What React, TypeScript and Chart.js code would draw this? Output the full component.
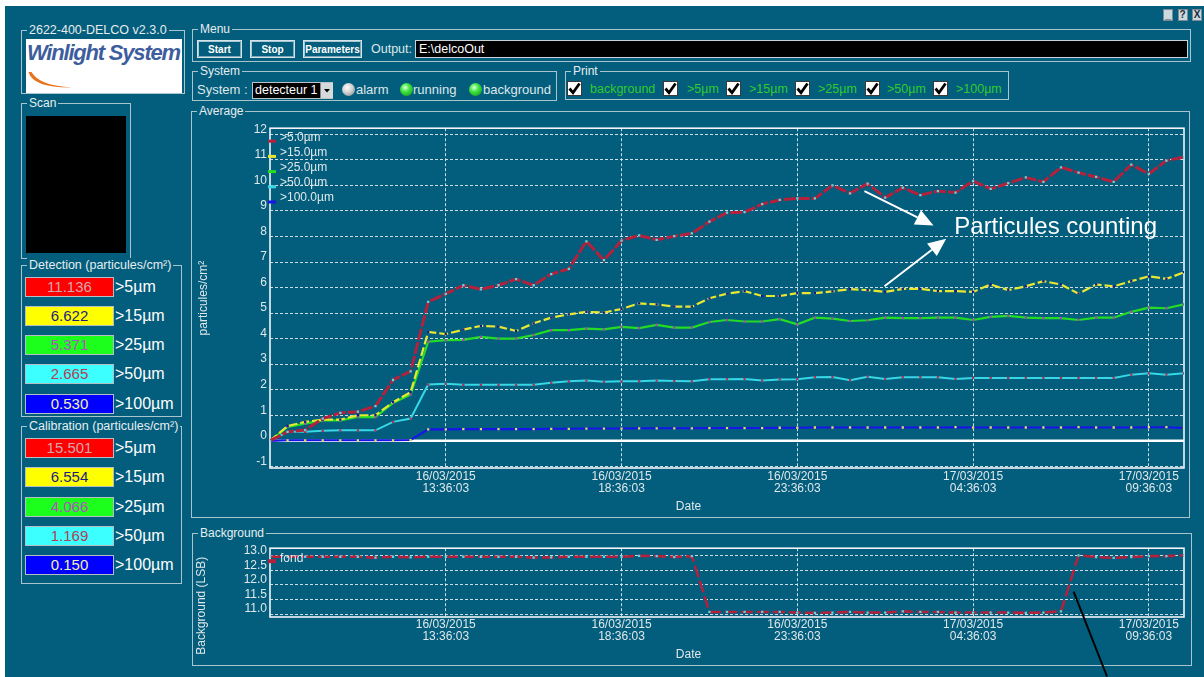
import React, { useEffect, useRef } from 'react';
import { Chart, registerables } from 'chart.js';

Chart.register(...registerables);

const FONT = '"Liberation Sans", Arial, Helvetica, sans-serif';
const TEAL = '#035d7c';
const INK = '#dfe8ea';
const FRAME = '#a9c4cc';
const GRID = 'rgba(225,236,240,0.9)';

// ---------- Average chart (one sample every 30 min, sample 0 = 16/03/2015 08:36:03)
const seriesLabels = ['>5.0µm', '>15.0µm', '>25.0µm', '>50.0µm', '>100.0µm'];
const over5 = [0, 0.35, 0.42, 0.87, 1.09, 1.14, 1.36, 2.38, 2.72, 5.44,
  5.75, 6.09, 5.93, 6.09, 6.33, 6.09, 6.53, 6.73, 7.81, 7.07,
  7.84, 8.04, 7.87, 8.01, 8.12, 8.58, 8.93, 8.95, 9.27, 9.43,
  9.49, 9.49, 10.0, 9.69, 10.07, 9.52, 9.91, 9.62, 9.78, 9.72,
  10.17, 9.86, 10.09, 10.31, 10.14, 10.71, 10.5, 10.33, 10.14, 10.81,
  10.45, 10.97, 11.11];
const over15 = [0, 0.58, 0.74, 0.83, 0.83, 1.0, 1.0, 1.51, 1.9, 4.26,
  4.18, 4.35, 4.5, 4.47, 4.3, 4.6, 4.82, 4.95, 5.05, 5.02,
  5.16, 5.38, 5.34, 5.25, 5.25, 5.58, 5.76, 5.86, 5.67, 5.67,
  5.78, 5.78, 5.85, 5.94, 5.9, 5.83, 5.95, 5.95, 5.86, 5.86,
  5.83, 6.12, 5.9, 6.05, 6.25, 6.12, 5.76, 6.12, 6.05, 6.25,
  6.44, 6.34, 6.6];
const over25 = [0, 0.54, 0.67, 0.8, 0.8, 0.93, 0.93, 1.48, 1.81, 3.88,
  3.94, 3.95, 4.07, 4.0, 4.0, 4.14, 4.33, 4.33, 4.39, 4.36,
  4.46, 4.41, 4.54, 4.43, 4.43, 4.65, 4.73, 4.67, 4.67, 4.76,
  4.56, 4.82, 4.78, 4.69, 4.72, 4.82, 4.8, 4.8, 4.82, 4.82,
  4.73, 4.85, 4.89, 4.82, 4.8, 4.8, 4.73, 4.82, 4.82, 5.05,
  5.21, 5.19, 5.34];
const over50 = [0, 0.35, 0.35, 0.39, 0.41, 0.41, 0.41, 0.74, 0.87, 2.2,
  2.23, 2.19, 2.19, 2.19, 2.19, 2.19, 2.27, 2.33, 2.36, 2.31,
  2.33, 2.33, 2.36, 2.34, 2.33, 2.41, 2.41, 2.42, 2.36, 2.4,
  2.41, 2.49, 2.5, 2.37, 2.51, 2.42, 2.49, 2.49, 2.49, 2.42,
  2.46, 2.46, 2.46, 2.46, 2.46, 2.46, 2.46, 2.46, 2.46, 2.59,
  2.64, 2.59, 2.64];
const over100 = [0, 0.02, 0.02, 0.02, 0.02, 0.02, 0.02, 0.02, 0.03, 0.45,
  0.45, 0.46, 0.46, 0.46, 0.46, 0.46, 0.47, 0.47, 0.48, 0.48,
  0.48, 0.49, 0.49, 0.49, 0.49, 0.5, 0.5, 0.5, 0.5, 0.51,
  0.51, 0.52, 0.52, 0.52, 0.52, 0.52, 0.52, 0.52, 0.52, 0.53,
  0.52, 0.52, 0.52, 0.52, 0.52, 0.52, 0.53, 0.52, 0.52, 0.52,
  0.53, 0.53, 0.5];

// ---------- Background chart
const fondLabel = 'fond';
const fond = [12.97, 12.97, 12.97, 12.97, 12.97, 12.97, 12.94, 12.97, 12.95, 12.97,
  12.97, 12.97, 12.97, 12.97, 12.97, 12.94, 12.95, 12.97, 12.97, 12.97,
  12.97, 13.0, 12.99, 12.96, 12.99, 11.07, 11.07, 11.07, 11.07, 11.07,
  11.05, 11.04, 11.05, 11.07, 11.05, 11.05, 11.09, 11.07, 11.07, 11.05,
  11.05, 11.05, 11.05, 11.04, 11.05, 11.09, 13.02, 12.96, 12.93, 12.96,
  12.99, 12.99, 13.02];

// ---------- axes
const xTickIndex = [10, 20, 30, 40, 50];
const xTickDates = ['16/03/2015', '16/03/2015', '16/03/2015', '17/03/2015', '17/03/2015'];
const xTickTimes = ['13:36:03', '18:36:03', '23:36:03', '04:36:03', '09:36:03'];
const yTicksAverage = [-1, 0, 1, 2, 3, 4, 5, 6, 7, 8, 9, 10, 11, 12];
const yTicksBackground = [11.0, 11.5, 12.0, 12.5, 13.0];

// ---------- side panel
const sizeLabels = ['>5µm', '>15µm', '>25µm', '>50µm', '>100µm'];
const detectionValues = [11.136, 6.622, 5.371, 2.665, 0.530];
const calibrationValues = [15.501, 6.554, 4.066, 1.169, 0.150];
const printLabels = ['background', '>5µm', '>15µm', '>25µm', '>50µm', '>100µm'];

// ---------- styles
const seriesColors = ['#b3213d', '#e8e832', '#24dc24', '#36d8e6', '#1616e8'];
const markerColors = ['#52dbe2', '#16169a', '#a445b8', '#b03052', '#e2e254'];
const seriesWidths = [3, 2.2, 2.2, 2, 2.2];
const seriesDashes = [[12, 2], [9, 3], [], [], []];
const boxColors = ['#ff0000', '#ffff00', '#1cff1c', '#3cffff', '#0000ff'];
const boxTextColors = ['#d3a6ae', '#1c1c84', '#b150c2', '#b53c56', '#f2f2b0'];

const annotationMain = {
  text: 'Particules counting',
  textAt: { x: 38.93, y: 8.09 },
  arrows: [
    { from: { x: 33.82, y: 9.78 }, to: { x: 37.75, y: 8.43 } },
    { from: { x: 34.96, y: 6.05 }, to: { x: 38.47, y: 7.91 } },
  ],
};
const annotationBg = { from: { x: 45.72, y: 11.77 }, to: { x: 47.62, y: 8.85 } };

function framePlugin(zeroLine: boolean) {
  return {
    id: 'frame',
    beforeDatasetsDraw(chart: any) {
      const { ctx, chartArea: a, scales } = chart;
      ctx.save();
      if (zeroLine) {
        const y = scales.y.getPixelForValue(0);
        ctx.strokeStyle = '#ffffff';
        ctx.lineWidth = 2.6;
        ctx.beginPath();
        ctx.moveTo(a.left, y);
        ctx.lineTo(a.right, y);
        ctx.stroke();
      }
      ctx.strokeStyle = '#f2f6f7';
      ctx.lineWidth = 1.6;
      ctx.strokeRect(a.left, a.top, a.right - a.left, a.bottom - a.top);
      ctx.restore();
    },
  };
}

function miniLegend(textDy: number, markerDy: number, step: number, markW: number) {
  return {
    id: 'miniLegend',
    afterDatasetsDraw(chart: any) {
      const { ctx, chartArea: a } = chart;
      ctx.save();
      chart.data.datasets.forEach((ds: any, i: number) => {
        const my = a.top + markerDy + i * step;
        ctx.strokeStyle = ds.borderColor;
        ctx.lineWidth = markW;
        ctx.setLineDash([]);
        ctx.beginPath();
        ctx.moveTo(a.left - 2, my);
        ctx.lineTo(a.left + 6, my);
        ctx.stroke();
        ctx.fillStyle = INK;
        ctx.font = `12px ${FONT}`;
        ctx.textBaseline = 'middle';
        ctx.textAlign = 'left';
        ctx.fillText(ds.label, a.left + 10, a.top + textDy + i * step);
      });
      ctx.restore();
    },
  };
}

function drawArrow(ctx: any, x1: number, y1: number, x2: number, y2: number, color: string, head: boolean) {
  const ang = Math.atan2(y2 - y1, x2 - x1);
  const hl = head ? 18 : 0;
  const hw = 8;
  const bx = x2 - hl * Math.cos(ang);
  const by = y2 - hl * Math.sin(ang);
  ctx.strokeStyle = color;
  ctx.fillStyle = color;
  ctx.lineWidth = 2;
  ctx.setLineDash([]);
  ctx.beginPath();
  ctx.moveTo(x1, y1);
  ctx.lineTo(bx, by);
  ctx.stroke();
  if (head) {
    ctx.beginPath();
    ctx.moveTo(x2, y2);
    ctx.lineTo(bx - hw * Math.sin(ang), by + hw * Math.cos(ang));
    ctx.lineTo(bx + hw * Math.sin(ang), by - hw * Math.cos(ang));
    ctx.closePath();
    ctx.fill();
  }
}

const mainNotePlugin = {
  id: 'mainNote',
  afterDraw(chart: any) {
    const { ctx, scales } = chart;
    const px = (p: any) => [scales.x.getPixelForValue(p.x), scales.y.getPixelForValue(p.y)];
    ctx.save();
    annotationMain.arrows.forEach((ar) => {
      const [x1, y1] = px(ar.from);
      const [x2, y2] = px(ar.to);
      drawArrow(ctx, x1, y1, x2, y2, '#ffffff', true);
    });
    const [tx, ty] = px(annotationMain.textAt);
    ctx.fillStyle = '#ffffff';
    ctx.font = `24px ${FONT}`;
    ctx.textAlign = 'left';
    ctx.textBaseline = 'alphabetic';
    ctx.fillText(annotationMain.text, tx, ty);
    ctx.restore();
  },
};

const bgNotePlugin = {
  id: 'bgNote',
  afterDraw(chart: any) {
    const { ctx, scales } = chart;
    ctx.save();
    drawArrow(ctx,
      scales.x.getPixelForValue(annotationBg.from.x), scales.y.getPixelForValue(annotationBg.from.y),
      scales.x.getPixelForValue(annotationBg.to.x), scales.y.getPixelForValue(annotationBg.to.y),
      '#000000', false);
    ctx.restore();
  },
};

function xScale(height: number, pad: number, count: number) {
  return {
    type: 'linear',
    min: 0,
    max: count - 1,
    afterBuildTicks: (s: any) => { s.ticks = xTickIndex.map((v) => ({ value: v })); },
    afterFit: (s: any) => { s.height = height; },
    ticks: {
      color: INK,
      font: { family: FONT, size: 12, lineHeight: 1 },
      padding: pad,
      maxRotation: 0,
      autoSkip: false,
      callback: (v: any) => {
        const k = xTickIndex.indexOf(Number(v));
        return k < 0 ? '' : [xTickDates[k], xTickTimes[k]];
      },
    },
    grid: { color: GRID, lineWidth: 1, drawTicks: false },
    border: { display: false, dash: [3, 2] },
  };
}

function Group({ x, y, w, h, label, size = 12 }: any) {
  return (
    <div style={{ position: 'absolute', left: x, top: y, width: w, height: h, border: `1px solid ${FRAME}`, boxSizing: 'border-box' }}>
      <span style={{ position: 'absolute', left: 5, top: -8, padding: '0 2px', background: TEAL, color: '#e6eef0', fontSize: size, lineHeight: '14px', whiteSpace: 'nowrap' }}>{label}</span>
    </div>
  );
}

function ValueRows({ top, values }: any) {
  return (
    <>
      {values.map((v: number, i: number) => (
        <React.Fragment key={i}>
          <div style={{ position: 'absolute', left: 25, top: top + i * 29.3, width: 89, height: 20, boxSizing: 'border-box', background: boxColors[i], border: '1px solid #b4bec4', color: boxTextColors[i], fontSize: 15, lineHeight: '18px', textAlign: 'center' }}>{v.toFixed(3)}</div>
          <div style={{ position: 'absolute', left: 115, top: top + i * 29.3, height: 20, color: '#ffffff', fontSize: 16, lineHeight: '20px', whiteSpace: 'nowrap' }}>{sizeLabels[i]}</div>
        </React.Fragment>
      ))}
    </>
  );
}

function Btn({ x, w, label }: any) {
  return (
    <div style={{ position: 'absolute', left: x, top: 40, width: w, height: 18, boxSizing: 'border-box', border: '1px solid #d4e4ea', boxShadow: 'inset -1px -1px 0 #7fa6b4, inset 1px 1px 0 #a8c8d2', color: '#ffffff', font: `bold 10px ${FONT}`, display: 'flex', alignItems: 'center', justifyContent: 'center' }}>{label}</div>
  );
}

function Led({ x, on }: any) {
  return (
    <div style={{ position: 'absolute', left: x, top: 83, width: 13, height: 13, borderRadius: '50%', background: on ? 'radial-gradient(circle at 40% 35%, #e4ffe4 0%, #44e844 35%, #0b8a0b 100%)' : 'radial-gradient(circle at 40% 35%, #ffffff 0%, #cfcfcf 45%, #7c7c7c 100%)' }} />
  );
}

function Check({ x }: any) {
  return (
    <svg style={{ position: 'absolute', left: x, top: 81 }} width={15} height={15}>
      <rect x={0.5} y={0.5} width={14} height={14} fill="#ffffff" stroke="#3a3a3a" />
      <path d="M2.5 7.5 L6 11.8 L12.5 2.5" stroke="#000" strokeWidth={2.8} fill="none" />
    </svg>
  );
}

export default function App() {
  const avgRef = useRef<HTMLCanvasElement>(null);
  const bgRef = useRef<HTMLCanvasElement>(null);

  useEffect(() => {
    const avgSeries = [over5, over15, over25, over50, over100];
    const c1 = new Chart(avgRef.current as HTMLCanvasElement, {
      type: 'line',
      data: {
        datasets: avgSeries.map((vals, k) => ({
          label: seriesLabels[k],
          data: vals.map((y, i) => ({ x: i, y })),
          borderColor: seriesColors[k],
          backgroundColor: markerColors[k],
          borderWidth: seriesWidths[k],
          borderDash: seriesDashes[k],
          pointStyle: 'rect',
          pointRadius: 1.6,
          pointBorderWidth: 0,
          pointBackgroundColor: markerColors[k],
          tension: 0,
          fill: false,
        })),
      },
      options: {
        responsive: false,
        animation: false,
        layout: { padding: { top: 8, right: 4, bottom: 0, left: 0 } },
        scales: {
          x: xScale(31.6, 3, over5.length) as any,
          y: {
            type: 'linear',
            min: -1.066,
            max: 12.24,
            afterBuildTicks: (s: any) => { s.ticks = yTicksAverage.map((v) => ({ value: v })); },
            afterFit: (s: any) => { s.width = 77; },
            ticks: { color: INK, font: { family: FONT, size: 12 }, padding: 3, labelOffset: -5, autoSkip: false, callback: (v: any) => String(v) },
            grid: { color: GRID, lineWidth: 1, drawTicks: false },
            border: { display: false, dash: [3, 2] },
            title: { display: true, text: 'particules/cm²', color: INK, font: { family: FONT, size: 12 }, padding: { top: 3.8, bottom: 0 } },
          },
        },
        plugins: {
          legend: { display: false },
          tooltip: { enabled: false },
          title: { display: true, position: 'bottom', text: 'Date', color: INK, font: { family: FONT, size: 12, weight: 'normal' }, padding: { top: 0, bottom: 2 } },
        },
      } as any,
      plugins: [framePlugin(true), miniLegend(9, 13, 15.2, 3), mainNotePlugin],
    });

    const c2 = new Chart(bgRef.current as HTMLCanvasElement, {
      type: 'line',
      data: {
        datasets: [{
          label: fondLabel,
          data: fond.map((y, i) => ({ x: i, y })),
          borderColor: '#b3213d',
          borderWidth: 2.6,
          borderDash: [12, 4],
          pointStyle: 'rect',
          pointRadius: 1.6,
          pointBorderWidth: 0,
          pointBackgroundColor: '#52dbe2',
          tension: 0,
          fill: false,
        }],
      },
      options: {
        responsive: false,
        animation: false,
        layout: { padding: { top: 10, right: 4, bottom: 13.5, left: 0 } },
        scales: {
          x: xScale(30.1, 1.3, fond.length) as any,
          y: {
            type: 'linear',
            min: 10.897,
            max: 13.264,
            afterBuildTicks: (s: any) => { s.ticks = yTicksBackground.map((v) => ({ value: v })); },
            afterFit: (s: any) => { s.width = 61.1; },
            ticks: { color: INK, font: { family: FONT, size: 12 }, padding: 3, labelOffset: -5, autoSkip: false, callback: (v: any) => Number(v).toFixed(1) },
            grid: { color: GRID, lineWidth: 1, drawTicks: false },
            border: { display: false, dash: [3, 2] },
          },
        },
        plugins: {
          legend: { display: false },
          tooltip: { enabled: false },
          title: { display: true, position: 'bottom', text: 'Date', color: INK, font: { family: FONT, size: 12, weight: 'normal' }, padding: { top: 0, bottom: 2 } },
          subtitle: { display: true, position: 'left', text: 'Background (LSB)', color: INK, font: { family: FONT, size: 12 }, padding: { top: 1.5, bottom: 0 } },
        },
      } as any,
      plugins: [framePlugin(false), miniLegend(10, 13, 15, 4), bgNotePlugin],
    });

    return () => { c1.destroy(); c2.destroy(); };
  }, []);

  const txt = { position: 'absolute' as const, color: INK, fontSize: 13, lineHeight: '16px', whiteSpace: 'nowrap' as const };

  return (
    <div style={{ position: 'relative', width: 1204, height: 677, background: '#ffffff', overflow: 'hidden', fontFamily: FONT }}>
      <style>{'body{margin:0;background:#fff}'}</style>
      <div style={{ position: 'absolute', left: 5, top: 6, width: 1199, height: 671, background: TEAL }} />

      {/* window buttons */}
      {['_', '?', 'X'].map((t, i) => (
        <div key={t} style={{ position: 'absolute', left: 1163 + i * 14.5, top: 9, width: 10, height: 12, boxSizing: 'border-box', background: '#cdd7de', border: '1px solid #7c8a94', color: '#1c2c3c', fontSize: 10, fontWeight: 'bold', lineHeight: '10px', textAlign: 'center' }}>{t}</div>
      ))}

      {/* logo */}
      <Group x={21} y={30} w={164} h={64} label="2622-400-DELCO v2.3.0" size={12.5} />
      <div style={{ position: 'absolute', left: 26, top: 39, width: 156, height: 54, background: '#ffffff', overflow: 'hidden' }}>
        <div style={{ position: 'absolute', left: 1, top: 1, fontSize: 22, fontWeight: 'bold', fontStyle: 'italic', color: '#3d5d9c', letterSpacing: -1.2, whiteSpace: 'nowrap' }}>Winlight System</div>
        <svg style={{ position: 'absolute', left: 0, top: 0 }} width={156} height={54}>
          <path d="M2.5 33 Q7 49 46 48.5 Q13 46.5 5.5 33 Z" fill="#e8731f" />
        </svg>
      </div>

      {/* scan */}
      <Group x={21} y={103} w={110} h={156} label="Scan" />
      <div style={{ position: 'absolute', left: 26, top: 116, width: 100, height: 137, background: '#000000' }} />

      {/* detection / calibration */}
      <Group x={21} y={265} w={161} h={152} label="Detection (particules/cm²)" size={12.5} />
      <ValueRows top={276.5} values={detectionValues} />
      <Group x={21} y={426} w={161} h={158} label="Calibration (particules/cm²)" size={12.5} />
      <ValueRows top={438} values={calibrationValues} />

      {/* menu */}
      <Group x={192} y={29} w={999} h={33} label="Menu" />
      <Btn x={197} w={45} label="Start" />
      <Btn x={250} w={45} label="Stop" />
      <Btn x={303} w={59} label="Parameters" />
      <div style={{ ...txt, left: 371, top: 41, fontSize: 12.5 }}>Output:</div>
      <div style={{ position: 'absolute', left: 415, top: 40, width: 773, height: 18, boxSizing: 'border-box', background: '#000000', border: '1px solid #c8d4d8', color: '#ffffff', fontSize: 12.5, lineHeight: '16px', paddingLeft: 3 }}>E:\delcoOut</div>

      {/* system */}
      <Group x={192} y={71} w={365} h={30} label="System" />
      <div style={{ ...txt, left: 197, top: 82 }}>System :</div>
      <div style={{ position: 'absolute', left: 252, top: 82, width: 81, height: 17, boxSizing: 'border-box', background: '#000000', border: '1px solid #b8c4c8', color: '#ffffff', fontSize: 12.5, lineHeight: '15px', paddingLeft: 2, overflow: 'hidden', whiteSpace: 'nowrap' }}>detecteur 1</div>
      <div style={{ position: 'absolute', left: 320, top: 83, width: 12, height: 15, background: '#d6dadc', borderLeft: '1px solid #888' }}>
        <svg width={12} height={15}><path d="M3 6 L9 6 L6 9.5 Z" fill="#000" /></svg>
      </div>
      <Led x={342} on={false} />
      <div style={{ ...txt, left: 356, top: 82 }}>alarm</div>
      <Led x={400} on={true} />
      <div style={{ ...txt, left: 413, top: 82 }}>running</div>
      <Led x={469} on={true} />
      <div style={{ ...txt, left: 483, top: 82 }}>background</div>

      {/* print */}
      <Group x={565} y={71} w={444} h={29} label="Print" />
      {[567, 663, 726, 795, 865, 933].map((cx, i) => (
        <React.Fragment key={cx}>
          <Check x={cx} />
          <div style={{ position: 'absolute', left: [590, 687, 749, 818, 887, 956][i], top: 81, color: '#2fcc2f', fontSize: 12.5, lineHeight: '16px', whiteSpace: 'nowrap' }}>{printLabels[i]}</div>
        </React.Fragment>
      ))}

      {/* charts */}
      <Group x={191} y={111} w={999} h={407} label="Average" />
      <Group x={192} y={533} w={1000} h={133} label="Background" />
      <canvas ref={avgRef} width={995} height={398} style={{ position: 'absolute', left: 193, top: 118 }} />
      <canvas ref={bgRef} width={995} height={139} style={{ position: 'absolute', left: 193, top: 538 }} />
    </div>
  );
}
